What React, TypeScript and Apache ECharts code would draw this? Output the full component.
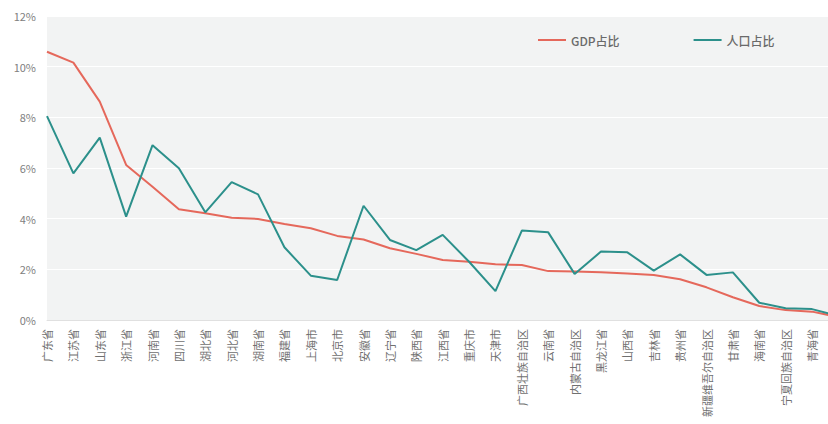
import React, { useEffect, useRef } from "react";
import * as echarts from "echarts";

const categories = [
  "广东省", "江苏省", "山东省", "浙江省", "河南省", "四川省", "湖北省", "河北省",
  "湖南省", "福建省", "上海市", "北京市", "安徽省", "辽宁省", "陕西省", "江西省",
  "重庆市", "天津市", "广西壮族自治区", "云南省", "内蒙古自治区", "黑龙江省", "山西省",
  "吉林省", "贵州省", "新疆维吾尔自治区", "甘肃省", "海南省", "宁夏回族自治区", "青海省",
  "西藏自治区",
];

const gdpShare = [
  10.59, 10.16, 8.62, 6.12, 5.26, 4.37, 4.21, 4.04, 3.99, 3.79, 3.62, 3.32, 3.18, 2.83, 2.61,
  2.37, 2.3, 2.2, 2.17, 1.93, 1.91, 1.88, 1.84, 1.78, 1.61, 1.29, 0.9, 0.55, 0.39, 0.33, 0.12,
];

const popShare = [
  8.05, 5.79, 7.2, 4.08, 6.9, 5.99, 4.25, 5.44, 4.96, 2.87, 1.75, 1.58, 4.51, 3.16, 2.76,
  3.36, 2.3, 1.14, 3.53, 3.46, 1.82, 2.7, 2.67, 1.95, 2.59, 1.78, 1.88, 0.68, 0.46, 0.43, 0.16,
];

const seriesNames = ["GDP占比", "人口占比"];
const yTicks = { min: 0, max: 12, interval: 2 };
// the last category lies beyond the picture's right edge in the reference
const visibleCount = 30;

export default function App() {
  const ref = useRef<HTMLDivElement>(null);
  useEffect(() => {
    if (!ref.current) return;
    const chart = echarts.init(ref.current, undefined, { renderer: "svg" });
    const font = "'Noto Sans CJK SC', 'Noto Sans', sans-serif";
    chart.setOption({
      animation: false,
      backgroundColor: "#ffffff",
      textStyle: { fontFamily: font },
      legend: {
        data: seriesNames,
        left: 533,
        top: 29,
        itemWidth: 28,
        itemHeight: 14,
        itemGap: 74,
        icon: "path://M0,6 L28,6 L28,8 L0,8 Z",
        textStyle: { color: "#6a6a6a", fontSize: 12, fontFamily: font, fontWeight: 500 },
      },
      grid: {
        left: 47,
        right: -10.4,
        top: 16,
        bottom: 104,
        show: true,
        backgroundColor: "#f2f3f3",
        borderWidth: 0,
        containLabel: false,
        outerBoundsMode: "none",
      },
      xAxis: {
        type: "category",
        data: categories,
        boundaryGap: false,
        axisLine: { show: true, lineStyle: { color: "#e0e0e0", width: 1 } },
        axisTick: { show: false },
        axisLabel: {
          interval: (index: number) => index < visibleCount,
          rotate: 90,
          margin: 9,
          fontSize: 11,
          color: "#707070",
          fontFamily: font,
        },
        splitLine: { show: false },
      },
      yAxis: {
        type: "value",
        min: yTicks.min,
        max: yTicks.max,
        interval: yTicks.interval,
        axisLine: { show: false },
        axisTick: { show: false },
        axisLabel: {
          formatter: "{value}%",
          fontSize: 11,
          color: "#808080",
          margin: 11,
          fontFamily: font,
        },
        splitLine: { show: true, lineStyle: { color: "#ffffff", width: 1 } },
      },
      series: [
        {
          name: seriesNames[0],
          type: "line",
          data: gdpShare,
          symbol: "none",
          lineStyle: { color: "#e5685b", width: 2 },
          itemStyle: { color: "#e5685b" },
        },
        {
          name: seriesNames[1],
          type: "line",
          data: popShare,
          symbol: "none",
          lineStyle: { color: "#2c908b", width: 2 },
          itemStyle: { color: "#2c908b" },
        },
      ],
    });
    return () => chart.dispose();
  }, []);
  return (
    <div
      ref={ref}
      style={{ position: "fixed", left: 0, top: 0, width: 828, height: 424 }}
    />
  );
}
